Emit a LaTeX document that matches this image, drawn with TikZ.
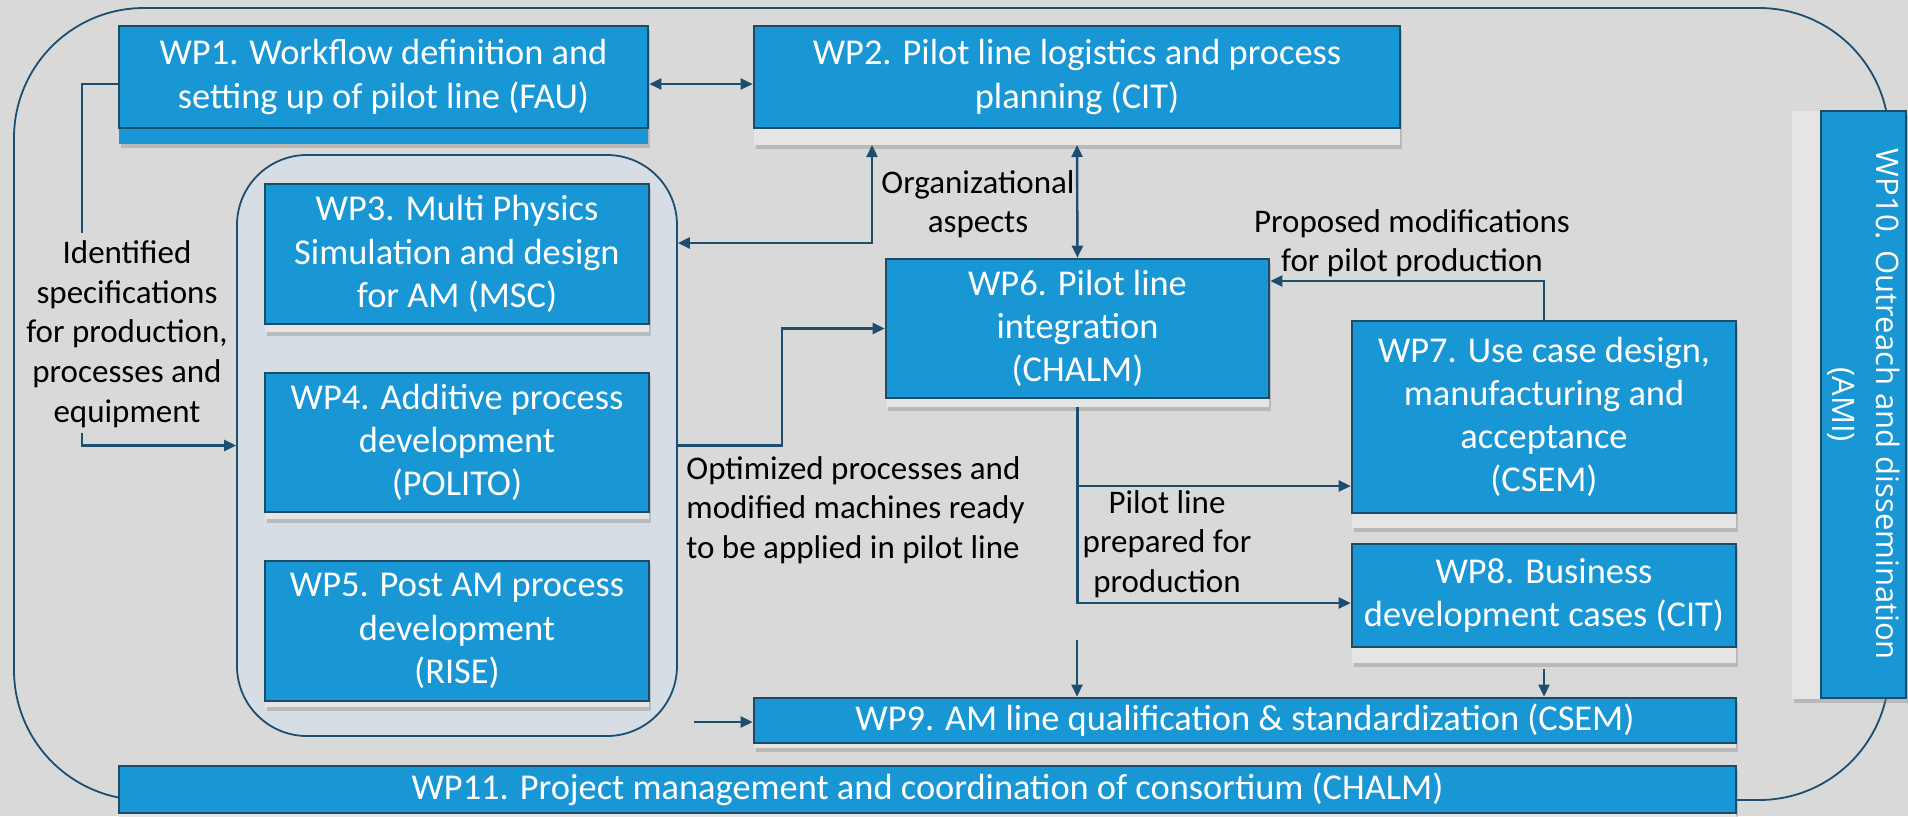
\documentclass[tikz,border=0pt]{standalone}
\usepackage{fontspec}
\setmainfont{Carlito}
\newfontfamily\osans{Open Sans}
\usetikzlibrary{arrows.meta,shadows,calc}
\definecolor{bg}{RGB}{217,217,217}
\definecolor{wpblue}{RGB}{25,150,212}
\definecolor{wpedge}{RGB}{28,76,106}
\definecolor{connc}{RGB}{30,78,110}
\definecolor{grpfill}{RGB}{214,221,228}
\definecolor{barfill}{RGB}{229,229,229}
\newcommand{\wpbox}[8][barfill]{%
  \fill[bar,fill=#1] (#3,#4) rectangle (#5,#7);
  \coordinate (#2bar) at ({(#3+#5)/2},#7);
  \node[wp, minimum width={(#5-#3)*0.5pt}, minimum height={(#6-#4)*0.5pt}] (#2) at ({(#3+#5)/2},{(#4+#6)/2}) {#8};
}
\begin{document}
\begin{tikzpicture}[x=0.5pt,y=-0.5pt,
  wp/.style={draw=wpedge, line width=1.3pt, fill=wpblue, text=white, align=center, inner sep=0pt,
    font=\fontsize{18.2}{21.6}\selectfont},
  bar/.style={fill=barfill, drop shadow={opacity=0.35,shadow xshift=1.2pt,shadow yshift=-1.8pt}},
  lbl/.style={align=center, inner sep=1pt, text=black, font=\fontsize{16.5}{19.8}\selectfont},
  cn/.style={draw=connc, line width=1.2pt},
  arr/.style={-{Triangle[length=6pt,width=5.5pt]}},
  darr/.style={{Triangle[length=6pt,width=5.5pt]}-{Triangle[length=6pt,width=5.5pt]}}
]
\useasboundingbox (0,0) rectangle (1908,816);
\fill[bg] (0,0) rectangle (1908,816);
% outer frame
\draw[draw=connc, line width=0.9pt, rounded corners=65pt] (14,8) rectangle (1889,800);
% group
\node[draw=connc, line width=0.9pt, fill=grpfill, rounded corners=35pt, inner sep=0pt,
  minimum width={440*0.5pt}, minimum height={581*0.5pt}] (grp) at (457,445.5) {};
% boxes
\wpbox[wpblue]{wp1}{119}{26}{648}{128}{144}{WP1. Workflow definition and\\setting up of pilot line (FAU)}
\wpbox{wp2}{754}{26}{1400}{128}{145}{WP2. Pilot line logistics and process\\planning (CIT)}
\wpbox{wp3}{265}{184}{649}{324}{332}{WP3. Multi Physics\\Simulation and design\\for AM (MSC)}
\wpbox{wp4}{265}{373}{649}{512}{519}{WP4. Additive process\\development\\(POLITO)}
\wpbox{wp5}{265}{561}{649}{701}{707}{WP5. Post AM process\\development\\(RISE)}
\wpbox{wp6}{886}{259}{1269}{398}{407}{WP6. Pilot line\\integration\\(CHALM)}
\wpbox{wp7}{1352}{321}{1736}{513}{528}{WP7. Use case design,\\manufacturing and\\acceptance\\(CSEM)}
\wpbox{wp8}{1352}{544}{1736}{647}{663}{WP8. Business\\development cases (CIT)}
\wpbox{wp9}{754}{698}{1736}{743}{748}{WP9. AM line qualification \& standardization (CSEM)}
\wpbox{wp11}{119}{766}{1736}{813}{818}{WP11. Project management and coordination of consortium (CHALM)}
% WP10 (rotated)
\fill[bar] (1792,111) rectangle (1906,699);
\node[wp, rotate=-90, minimum width={587*0.5pt}, minimum height={85*0.5pt},
  font=\osans\fontsize{15.5}{22}\selectfont] (wp10) at (1863.5,404.5) {WP10. Outreach and dissemination\\(AMI)};
% helper coordinates
\coordinate (y84) at (0,84);
\coordinate (k1) at (82,233);
\coordinate (k2) at (82,433);
\coordinate (y243) at (0,243);
\coordinate (x872) at (872,0);
\coordinate (y281) at (0,281);
\coordinate (x782) at (782,0);
\coordinate (y486) at (0,486);
\coordinate (y603) at (0,603);
\coordinate (f1) at (1077,640);
\coordinate (f2) at (694,722);
% connectors
\draw[cn,darr] (wp1.east |- y84) -- (wp2.west |- y84);
\draw[cn] (wp1.west |- y84) -| (k1);
\draw[cn,arr] (k2) |- (grp.west);
\draw[cn,darr] (grp.east |- y243) -| (x872 |- wp2bar);
\draw[cn,darr] (wp2bar) -- (wp6.north);
\draw[cn,arr] (wp7.north) |- (wp6.east |- y281);
\draw[cn,arr] (grp.east) -| (x782 |- wp6.west) -- (wp6.west);
\draw[cn,arr] (wp6bar) |- (wp7.west |- y486);
\draw[cn,arr] (wp6bar) |- (wp8.west |- y603);
\draw[cn,arr] (f1) -- (f1 |- wp9.north);
\draw[cn,arr] ($(wp8bar)+(0,6)$) -- (wp8bar |- wp9.north);
\draw[cn,arr] (f2) -- (f2 -| wp9.west);
% labels
\node[lbl] (ident) at (127,334) {Identified\\specifications\\for production,\\processes and\\equipment};
\node[lbl] (org) at (978,204) {Organizational\\aspects};
\node[lbl] (prop) at (1412,243) {Proposed modifications\\for pilot production};
\node[lbl, align=left, anchor=west] (optim) at (684,510) {Optimized processes and\\modified machines ready\\to be applied in pilot line};
\node[lbl] (pilot) at (1167,544) {Pilot line\\prepared for\\production};
\end{tikzpicture}
\end{document}
